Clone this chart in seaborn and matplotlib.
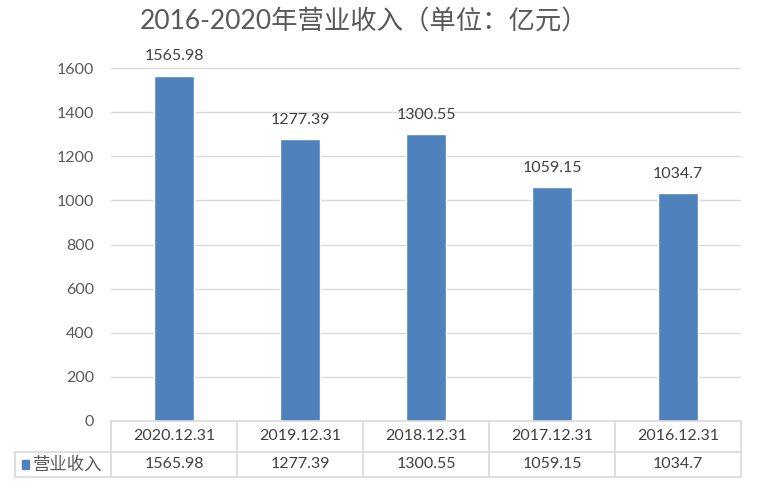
import matplotlib
matplotlib.use("Agg")
import matplotlib.pyplot as plt
import seaborn as sns
import pandas as pd
from matplotlib.lines import Line2D
from matplotlib.patches import Rectangle

categories = ["2020.12.31", "2019.12.31", "2018.12.31", "2017.12.31", "2016.12.31"]
values = [1565.98, 1277.39, 1300.55, 1059.15, 1034.7]
value_labels = ["1565.98", "1277.39", "1300.55", "1059.15", "1034.7"]
series_name = "营业收入"
title = "2016-2020年营业收入（单位：亿元）"
yticks = [0, 200, 400, 600, 800, 1000, 1200, 1400, 1600]

sns.set_theme(style="white")
plt.rcParams["font.family"] = ["Lato", "Noto Sans CJK SC", "DejaVu Sans"]

W, H = 757, 495
fig = plt.figure(figsize=(W / 100, H / 100), dpi=100)
L, R, B, T = 111, 741, 421, 68
ax = fig.add_axes([L / W, 1 - B / H, (R - L) / W, (B - T) / H])

df = pd.DataFrame({"cat": categories, "val": values})
sns.barplot(data=df, x="cat", y="val", order=categories, color="#4f81bd",
            saturation=1, width=0.32, ax=ax, zorder=3)

ax.set_ylim(0, 1600)
ax.set_yticks(yticks)
ax.set_yticklabels([str(v) for v in yticks], fontsize=11.5, color="#595959")
ax.tick_params(axis="y", length=0, pad=12)
ax.set_xticks([])
ax.set_xlabel("")
ax.set_ylabel("")
ax.set_xlim(-0.5, len(categories) - 0.5)
for s in ["left", "right", "top", "bottom"]:
    ax.spines[s].set_visible(False)
ax.grid(axis="y", color="#d9d9d9", linewidth=1, zorder=0)

for i, (v, lab) in enumerate(zip(values, value_labels)):
    ax.text(i, v + 55, lab, ha="center", va="bottom", fontsize=11.5,
            color="#404040", clip_on=False)

fig.text(0.5 * (143 + 585) / W, 1 - 22 / H, title, ha="center", va="center",
         fontsize=19, color="#595959")

# data table below
lc = "#d9d9d9"
r1, r2, r3 = 421, 452, 477
xl = 15
colw = (R - L) / len(categories)

def fx(x):
    return x / W

def fy(y):
    return 1 - y / H

fig.add_artist(Line2D([fx(L), fx(R)], [fy(r1), fy(r1)], color=lc, lw=1.2))
fig.add_artist(Line2D([fx(xl), fx(R)], [fy(r2), fy(r2)], color=lc, lw=1.2))
fig.add_artist(Line2D([fx(xl), fx(R)], [fy(r3), fy(r3)], color=lc, lw=1.2))
fig.add_artist(Line2D([fx(xl), fx(xl)], [fy(r2), fy(r3)], color=lc, lw=1.2))
for k in range(len(categories) + 1):
    x = L + k * colw
    fig.add_artist(Line2D([fx(x), fx(x)], [fy(r1), fy(r3)], color=lc, lw=1.2))

for k, (c, lab) in enumerate(zip(categories, value_labels)):
    xc = L + (k + 0.5) * colw
    fig.text(fx(xc), fy((r1 + r2) / 2), c, ha="center", va="center",
             fontsize=11.5, color="#404040")
    fig.text(fx(xc), fy((r2 + r3) / 2), lab, ha="center", va="center",
             fontsize=11.5, color="#404040")

fig.add_artist(Rectangle((fx(22), fy(469)), 7 / W, 9 / H, color="#4f81bd",
                         transform=fig.transFigure))
fig.text(fx(33), fy((r2 + r3) / 2), series_name, ha="left", va="center",
         fontsize=12.5, color="#595959")

fig.savefig("out.png", dpi=100)
